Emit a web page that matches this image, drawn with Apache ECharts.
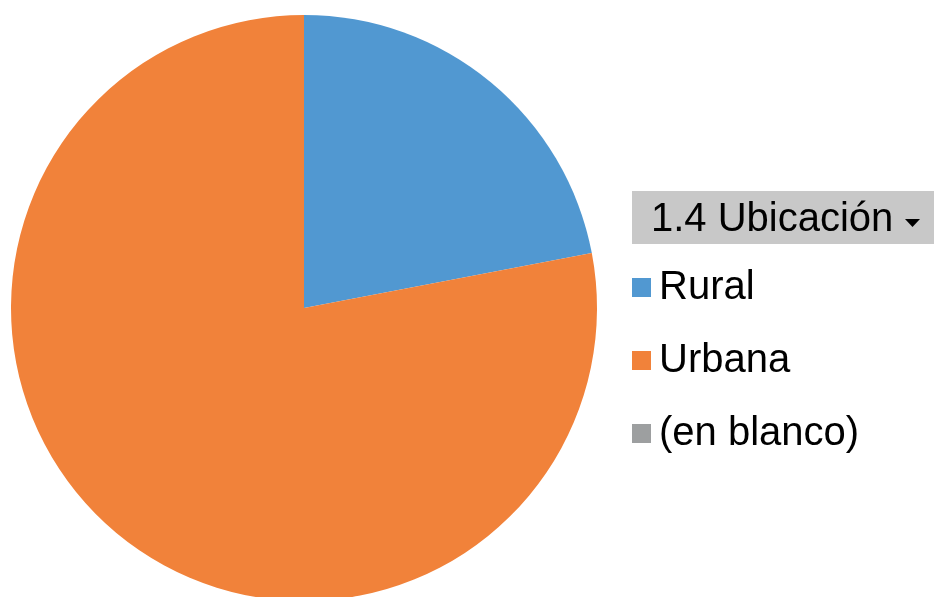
<!DOCTYPE html>
<html>
<head>
<meta charset="utf-8">
<script src="https://cdn.jsdelivr.net/npm/echarts@6/dist/echarts.min.js"></script>
<style>html,body{margin:0;padding:0;background:#fff;}#c{width:934px;height:597px;}</style>
</head>
<body>
<div id="c"></div>
<script>
const categories = ['Rural', 'Urbana', '(en blanco)'];
const values = [22, 78, 0];
const colors = ['#5198D1', '#F1823A', '#9D9FA0'];
const headerText = '1.4 Ubicación';

const chart = echarts.init(document.getElementById('c'));
chart.setOption({
  animation: false,
  backgroundColor: '#ffffff',
  legend: {
    orient: 'vertical',
    left: 632,
    top: 266,
    padding: 0,
    icon: 'rect',
    itemWidth: 19,
    itemHeight: 19,
    itemGap: 30,
    selectedMode: false,
    textStyle: { fontFamily: 'Liberation Sans, Arial, sans-serif', fontSize: 40, color: '#000', lineHeight: 43, padding: [0, 0, 0, 3] },
    data: categories
  },
  graphic: [
    { type: 'rect', shape: { x: 632, y: 191, width: 302, height: 53 }, style: { fill: '#C8C8C8' } },
    { type: 'text', x: 651, y: 220, style: { text: headerText, fontFamily: 'Liberation Sans, Arial, sans-serif', fontSize: 40, fill: '#000', verticalAlign: 'middle' } },
    { type: 'polygon', shape: { points: [[905, 219], [920, 219], [912.5, 227]] }, style: { fill: '#000' } }
  ],
  series: [{
    type: 'pie',
    center: [304, 308],
    radius: 293,
    startAngle: 90,
    clockwise: true,
    label: { show: false },
    labelLine: { show: false },
    emphasis: { disabled: true },
    itemStyle: { borderWidth: 0 },
    data: categories.map((n, i) => ({ name: n, value: values[i], itemStyle: { color: colors[i] } }))
  }]
});
</script>
</body>
</html>
